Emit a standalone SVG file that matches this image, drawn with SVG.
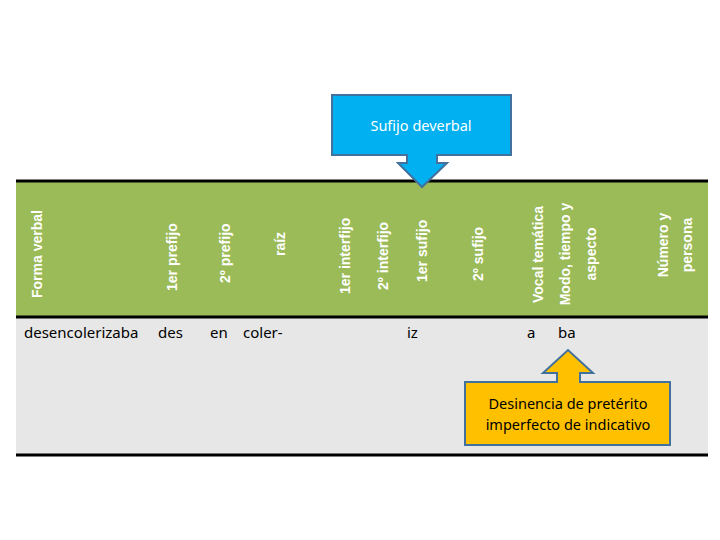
<svg xmlns="http://www.w3.org/2000/svg" width="720" height="540" viewBox="0 0 720 540">
<style>
.h{font-family:"Liberation Sans",Arial,sans-serif;font-weight:bold;font-size:14px;fill:#fff}
.b{font-family:"Noto Sans","Liberation Sans",sans-serif;font-size:15px;fill:#000}
.c{font-family:"Noto Sans","Liberation Sans",sans-serif;font-size:14.5px}
</style>
<rect x="0" y="0" width="720" height="540" fill="#fff"/>
<g id="table">
<rect x="16" y="180" width="692" height="137" fill="#9BBB59"/>
<rect x="16" y="317" width="692" height="138" fill="#E7E7E7"/>
<line x1="16" y1="181" x2="708" y2="181" stroke="#000" stroke-width="3"/>
<line x1="16" y1="317" x2="708" y2="317" stroke="#000" stroke-width="3"/>
<line x1="16" y1="455" x2="708" y2="455" stroke="#000" stroke-width="3"/>
</g>
<g id="headers">
<text class="h" transform="translate(42,298) rotate(-90)">Forma verbal</text>
<text class="h" transform="translate(177,291) rotate(-90)">1er prefijo</text>
<text class="h" transform="translate(230,283) rotate(-90)">2º prefijo</text>
<text class="h" transform="translate(285,256) rotate(-90)">raíz</text>
<text class="h" transform="translate(350,294) rotate(-90)">1er interfijo</text>
<text class="h" transform="translate(388,290) rotate(-90)">2º interfijo</text>
<text class="h" transform="translate(427,282) rotate(-90)">1er sufijo</text>
<text class="h" transform="translate(483,281) rotate(-90)">2º sufijo</text>
<text class="h" transform="translate(543,303) rotate(-90)">Vocal temática</text>
<text class="h" text-anchor="middle" transform="translate(570,254) rotate(-90)">Modo, tiempo y</text>
<text class="h" text-anchor="middle" transform="translate(596,254) rotate(-90)">aspecto</text>
<text class="h" text-anchor="middle" transform="translate(668,245) rotate(-90)">Número y</text>
<text class="h" text-anchor="middle" transform="translate(692,245) rotate(-90)">persona</text>
</g>
<g id="row">
<text class="b" x="24" y="338">desencolerizaba</text>
<text class="b" x="158" y="338">des</text>
<text class="b" x="210" y="338">en</text>
<text class="b" x="243" y="338">coler-</text>
<text class="b" x="407" y="338">iz</text>
<text class="b" x="527" y="338">a</text>
<text class="b" x="558" y="338">ba</text>
</g>
<g id="sufijo-deverbal">
<path d="M332,95 H511 V155 H437 V163 H447 L422,187 L398,163 H407 V155 H332 Z" fill="#00B0F0" stroke="#41719C" stroke-width="2"/>
<text class="c" x="421" y="131" text-anchor="middle" fill="#fff">Sufijo deverbal</text>
</g>
<g id="desinencia">
<path d="M465,382 H557 V373 H543 L568,350 L593,373 H580 V382 H670 V445 H465 Z" fill="#FFC000" stroke="#41719C" stroke-width="2"/>
<text class="c" x="568" y="409" text-anchor="middle" fill="#000">Desinencia de pretérito</text>
<text class="c" x="568" y="430" text-anchor="middle" fill="#000">imperfecto de indicativo</text>
</g>
<g id="connectors"></g>
</svg>
